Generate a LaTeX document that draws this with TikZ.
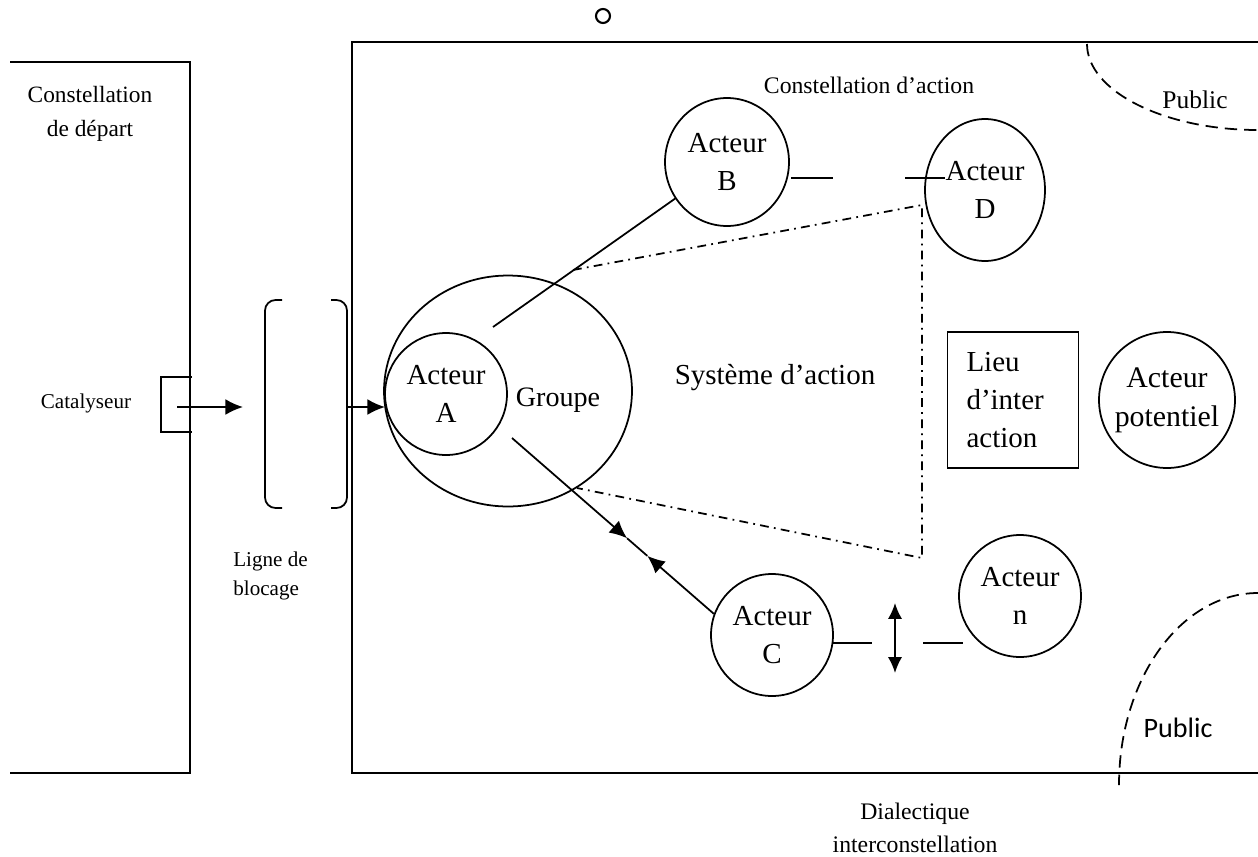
\documentclass[tikz,border=0pt]{standalone}
\usepackage{fontspec}
\setmainfont{Liberation Serif}
\newfontfamily\calibrifont{Carlito}
\usepackage{tikz}
\usetikzlibrary{shapes.geometric}
\usetikzlibrary{arrows.meta}
\tikzstyle{Actor}=[ellipse,draw,line width=1pt,inner sep=0pt,align=center,
font=\fontsize{16.5}{22}\selectfont]
\tikzstyle{Group}=[ellipse,draw,line width=1pt,inner sep=0pt,
minimum width=4.96cm,minimum height=4.62cm]
\tikzstyle{Place}=[rectangle,draw,line width=1pt,inner xsep=.38cm,
text width=1.86cm,minimum height=2.72cm,align=left,
font=\fontsize{16.5}{21.5}\selectfont]
\tikzstyle{Label}=[inner sep=0pt,align=center]
\tikzstyle{Edge}=[line width=1pt]
\tikzstyle{Arrow}=[line width=1pt,-{Latex[length=10pt,width=9pt]}]
\tikzstyle{DoubleArrow}=[line width=1pt,{Latex[length=9pt,width=8pt]}-{Latex[length=9pt,width=8pt]}]
\tikzstyle{DashDot}=[line width=1pt,dash pattern=on 5pt off 3pt on 1pt off 3pt]
\tikzstyle{PublicEdge}=[line width=1pt,dash pattern=on 7pt off 4pt]

\begin{document}
\begin{tikzpicture}[x=.02cm,y=-.02cm]
        \useasboundingbox (0,0) rectangle (1258,856);
        \draw[Edge](10,62)--(190,62)--(190,773)--(10,773);
        \draw[Edge](1258,42)--(352,42)--(352,773)--(1258,773);
        \node[draw,circle,line width=1.2pt,minimum size=.28cm,inner sep=0pt](o)at(603,16){};
        \node[Label,font=\fontsize{13.3}{19}\selectfont](cdep)at(90,114){Constellation\\de départ};
        \node[Label,font=\fontsize{12}{15}\selectfont](cat)at(86,403){Catalyseur};
        \node[Label,anchor=west,align=left,font=\fontsize{12}{16}\selectfont](lig)at(233,576){Ligne de\\blocage};
        \node[Label,font=\fontsize{13.5}{16}\selectfont](cact)at(869,85){Constellation d'action};
        \node[Label,font=\fontsize{16.5}{20}\selectfont](sys)at(775,378){Système d'action};
        \node[Label,font=\fontsize{14.5}{17}\selectfont](pubh)at(1195,100){Public};
        \node[Label,font=\calibrifont\fontsize{16}{19}\selectfont](pubb)at(1178,728){Public};
        \node[Label,font=\fontsize{13.5}{18.5}\selectfont](dia)at(915,828){Dialectique\\interconstellation};
        \node[Group](G)at(508,391){};
        \node[Actor,minimum width=2.44cm,minimum height=2.44cm](A)at(446,394){Acteur\\A};
        \node[Label,font=\fontsize{16}{20}\selectfont](grp)at(558,400){Groupe};
        \node[Actor,minimum width=2.48cm,minimum height=2.56cm](B)at(727,162){Acteur\\B};
        \node[Actor,minimum width=2.4cm,minimum height=2.84cm](D)at(985,190){Acteur\\D};
        \node[Actor,minimum width=2.44cm,minimum height=2.44cm](C)at(772,635){Acteur\\C};
        \node[Actor,minimum width=2.44cm,minimum height=2.44cm](N)at(1020,596){Acteur\\n};
        \node[Actor,inner sep=-8pt,minimum width=2.72cm,minimum height=2.72cm,font=\fontsize{17}{22}\selectfont](P)at(1167,400){Acteur\\potentiel};
        \node[Place](L)at(1013,400){Lieu\\d'inter\\action};
        \draw[Edge](192,377)--(161,377)--(161,432)--(192,432);
        \draw[Edge,rounded corners=6pt](282,300)--(265,300)--(265,508)--(282,508);
        \draw[Edge,rounded corners=6pt](331,300)--(347,300)--(347,508)--(331,508);
        \coordinate(c0)at(177,407);
        \coordinate(c1)at(243,407);
        \coordinate(l0)at(347,407);
        \coordinate(l1)at(385,407);
        \draw[Arrow](c0)--(c1);
        \draw[Arrow](l0)--(l1);
        \coordinate(ab)at(493,327);
        \draw[Edge](ab)--(B);
        \coordinate(ac)at(512,438);
        \path(ac)--(C.160)coordinate[pos=.57](m1)coordinate[pos=.67](m2);
        \draw[Arrow](ac)--(m1);
        \draw[Arrow](C.160)--(m2);
        \draw[Edge](m1)--(m2);
        \coordinate(g1)at(573,270);
        \coordinate(d1)at(922,205);
        \coordinate(d2)at(922,558);
        \coordinate(g2)at(577,488);
        \draw[DashDot](g1)--(d1)--(d2)--(g2);
        \coordinate(bd1)at(791,178);
        \coordinate(bd2)at(833,178);
        \coordinate(bd3)at(905,178);
        \coordinate(bd4)at(945,178);
        \draw[Edge](bd1)--(bd2);
        \draw[Edge](bd3)--(bd4);
        \coordinate(cn1)at(833,643);
        \coordinate(cn2)at(872,643);
        \coordinate(cn3)at(923,643);
        \coordinate(cn4)at(963,643);
        \draw[Edge](cn1)--(cn2);
        \draw[Edge](cn3)--(cn4);
        \coordinate(up)at(895,603);
        \coordinate(dn)at(895,673);
        \draw[DoubleArrow](up)--(dn);
        \draw[PublicEdge](1087,44)..controls(1087,91)and(1164,130)..(1258,130);
        \draw[PublicEdge](1258,593)..controls(1181,593)and(1119,679)..(1119,785);
    \end{tikzpicture}
\end{document}
